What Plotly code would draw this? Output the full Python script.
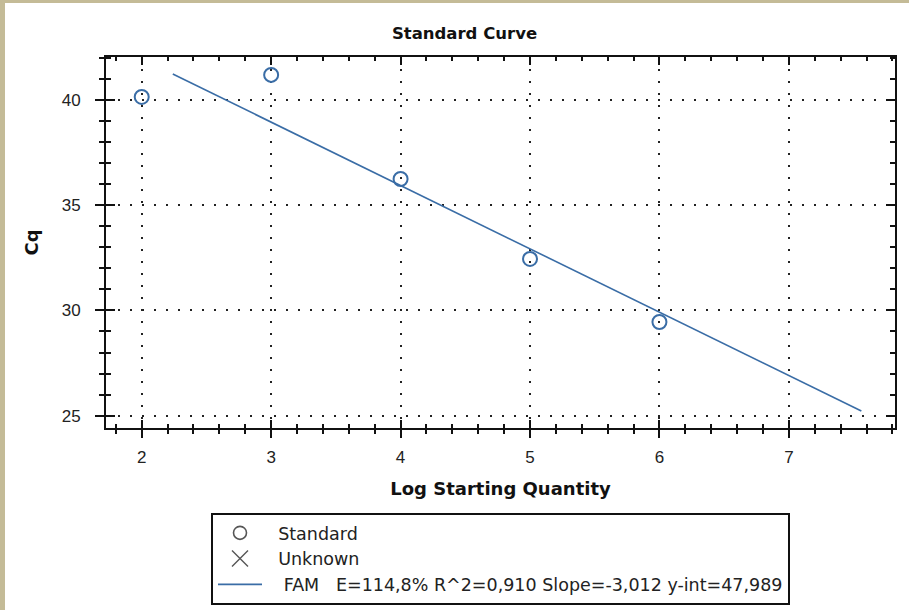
import plotly.graph_objects as go

# ---- data ----
log_qty = [2, 3, 4, 5, 6]
cq_values = [40.15, 41.2, 36.25, 32.45, 29.45]
fit_slope = -3.012
fit_intercept = 47.989
fit_x = [2.24, 7.56]
fit_y = [fit_slope * x + fit_intercept for x in fit_x]

x_range = [1.724, 7.82]
y_range = [24.41, 42.05]
x_ticks = [2, 3, 4, 5, 6, 7]
y_ticks = [25, 30, 35, 40]

NB = "\u00a0"
legend_standard = NB * 2 + "Standard"
legend_unknown = NB * 2 + "Unknown"
legend_fam = NB * 3 + "FAM" + NB * 3 + "E=114,8%" + NB + "R^2=0,910" + NB + "Slope=-3,012" + NB + "y-int=47,989"

BLUE = "#3a6da6"
BEIGE = "#c4bb97"
GRAY = "#555555"

fig = go.Figure()

# fit line
fig.add_trace(go.Scatter(x=fit_x, y=fit_y, mode="lines",
                         line=dict(color=BLUE, width=1.6),
                         showlegend=False, hoverinfo="skip"))
# standard points
fig.add_trace(go.Scatter(x=log_qty, y=cq_values, mode="markers",
                         marker=dict(symbol="circle-open", size=14,
                                     color=BLUE, line=dict(width=2, color=BLUE)),
                         showlegend=False))
# legend-only entries
fig.add_trace(go.Scatter(x=[None], y=[None], mode="markers", name=legend_standard,
                         marker=dict(symbol="circle-open", size=13, color=GRAY,
                                     line=dict(width=1.6, color=GRAY))))
fig.add_trace(go.Scatter(x=[None], y=[None], mode="markers", name=legend_unknown,
                         marker=dict(symbol="x-thin-open", size=16, color=GRAY,
                                     line=dict(width=1.4, color=GRAY))))
fig.add_trace(go.Scatter(x=[None], y=[None], mode="lines", name=legend_fam,
                         line=dict(color=BLUE, width=1.6)))
# invisible trace binding the overlay axes (inside ticks)
fig.add_trace(go.Scatter(x=fit_x, y=fit_y, mode="lines", xaxis="x2", yaxis="y2",
                         line=dict(color="rgba(0,0,0,0)"), showlegend=False,
                         hoverinfo="skip"))

tick_font = dict(family="Liberation Sans, Arial, sans-serif", size=17, color="#222")
title_font = dict(family="DejaVu Sans, sans-serif", size=18, color="#111")

fig.update_layout(
    width=909, height=610,
    margin=dict(l=106, r=14, t=57, b=182, autoexpand=False),
    paper_bgcolor=BEIGE,
    plot_bgcolor="white",
    title=dict(text="<b>Standard Curve</b>", x=0.511, xref="container", xanchor="center",
               y=1 - 33 / 610, yref="container", yanchor="middle",
               font=dict(family="DejaVu Sans, sans-serif", size=16.5, color="#111")),
    showlegend=True,
    legend=dict(x=0.5, xanchor="center", y=-0.229, yanchor="top",
                bgcolor="white", bordercolor="#111", borderwidth=2,
                itemwidth=44,
                font=dict(family="DejaVu Sans, sans-serif", size=17.5, color="#222"),
                traceorder="normal"),
    xaxis=dict(range=x_range, tickvals=x_ticks, ticks="outside", ticklen=8, tickwidth=2,
               tickcolor="#111", showline=True, linecolor="#111", linewidth=2, mirror=True,
               showgrid=True, gridcolor="#222", gridwidth=1.6, griddash="2px,10px",
               zeroline=False, tickfont=tick_font, ticklabelstandoff=5, automargin=False,
               minor=dict(dtick=0.2, ticks="outside", ticklen=4, tickwidth=1.6,
                          tickcolor="#111", showgrid=False),
               title=dict(text="<b>Log Starting Quantity</b>", font=title_font, standoff=16)),
    yaxis=dict(range=y_range, tickvals=y_ticks, ticks="outside", ticklen=9, tickwidth=2,
               tickcolor="#111", showline=True, linecolor="#111", linewidth=2, mirror=True,
               showgrid=True, gridcolor="#222", gridwidth=1.6, griddash="2px,10px",
               zeroline=False, tickfont=tick_font, ticklabelstandoff=11, automargin=False,
               minor=dict(dtick=1, ticks="outside", ticklen=5, tickwidth=1.6,
                          tickcolor="#111", showgrid=False),
               title=dict(text="<b>Cq</b>", font=title_font, standoff=18)),
    xaxis2=dict(range=x_range, overlaying="x", matches="x", tickvals=x_ticks,
                ticks="inside", ticklen=8, tickwidth=2, tickcolor="#111",
                showline=True, linecolor="#111", linewidth=2, mirror="ticks",
                showgrid=False, zeroline=False, showticklabels=False, automargin=False,
                minor=dict(dtick=0.2, ticks="inside", ticklen=4, tickwidth=1.6,
                           tickcolor="#111", showgrid=False)),
    yaxis2=dict(range=y_range, overlaying="y", matches="y", tickvals=y_ticks,
                ticks="inside", ticklen=9, tickwidth=2, tickcolor="#111",
                showline=True, linecolor="#111", linewidth=2, mirror="ticks",
                showgrid=False, zeroline=False, showticklabels=False, automargin=False,
                minor=dict(dtick=1, ticks="inside", ticklen=5, tickwidth=1.6,
                           tickcolor="#111", showgrid=False)),
    shapes=[dict(type="rect", xref="paper", yref="paper", layer="below",
                 x0=(5 - 106) / 789, x1=1.1, y0=-0.6, y1=(428 - 3) / 371,
                 fillcolor="white", line=dict(width=0))],
)

fig.write_html("out.html", config={"displayModeBar": False},
               post_script="document.body.style.margin='0';")
